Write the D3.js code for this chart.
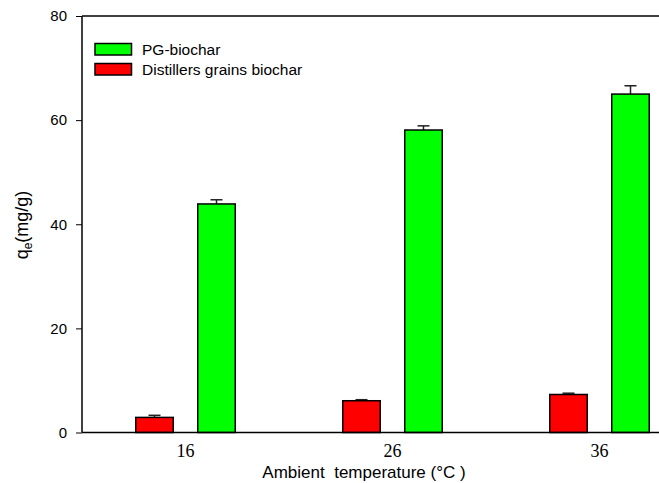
<!DOCTYPE html>
<html>
<head>
<meta charset="utf-8">
<script src="https://cdn.jsdelivr.net/npm/d3@7/dist/d3.min.js"></script>
<style>
  html, body { margin: 0; padding: 0; background: #fff; }
  svg { display: block; }
</style>
</head>
<body>
<script>
const categories = ["16", "26", "36"];
const series = ["Distillers grains biochar", "PG-biochar"];
const distillers = [2.9, 6.1, 7.3];
const distillersErr = [0.4, 0.2, 0.25];
const pg = [43.9, 58.1, 65.0];
const pgErr = [0.8, 0.8, 1.6];
const yTicks = [0, 20, 40, 60, 80];
const colors = { "PG-biochar": "#00ff00", "Distillers grains biochar": "#ff0000" };

const W = 659, H = 483;
const svg = d3.select("body").append("svg").attr("width", W).attr("height", H);

const mLeft = 82, mTop = 16, mBottom = 432.5;
const x0 = d3.scaleBand().domain(categories).range([mLeft, mLeft + 3 * 207]).paddingInner(0).paddingOuter(0);
const x1 = d3.scaleBand().domain(series).range([0, x0.bandwidth()]).paddingInner(0.395).paddingOuter(0.867);
const y = d3.scaleLinear().domain([0, 80]).range([mBottom, mTop]);

const rows = [];
categories.forEach((c, i) => {
  rows.push({ cat: c, s: series[0], v: distillers[i], e: distillersErr[i] });
  rows.push({ cat: c, s: series[1], v: pg[i], e: pgErr[i] });
});

// error bars (upper only)
const eb = svg.append("g");
rows.forEach(d => {
  const cx = x0(d.cat) + x1(d.s) + x1.bandwidth() / 2;
  eb.append("line").attr("x1", cx).attr("x2", cx).attr("y1", y(d.v)).attr("y2", y(d.v + d.e))
    .attr("stroke", "#222").attr("stroke-width", 1.5);
  eb.append("line").attr("x1", cx - 6).attr("x2", cx + 6).attr("y1", y(d.v + d.e)).attr("y2", y(d.v + d.e))
    .attr("stroke", "#222").attr("stroke-width", 1.5);
});

// bars
svg.append("g").selectAll("rect").data(rows).join("rect")
  .attr("x", d => x0(d.cat) + x1(d.s))
  .attr("y", d => y(d.v))
  .attr("width", x1.bandwidth())
  .attr("height", d => y(0) - y(d.v))
  .attr("fill", d => colors[d.s])
  .attr("stroke", "#000")
  .attr("stroke-width", 1.5);

// frame lines
svg.append("line").attr("x1", mLeft).attr("x2", W).attr("y1", mTop).attr("y2", mTop).attr("stroke", "#000").attr("stroke-width", 1.5);
svg.append("line").attr("x1", mLeft).attr("x2", W).attr("y1", mBottom).attr("y2", mBottom).attr("stroke", "#000").attr("stroke-width", 1.5);

// y axis
const yAxis = d3.axisLeft(y).tickValues(yTicks).tickSize(6).tickPadding(9).tickFormat(d3.format("d"));
const ga = svg.append("g").attr("transform", `translate(${mLeft},0)`).call(yAxis);
ga.select(".domain").attr("stroke", "#000").attr("stroke-width", 1.5).attr("d", `M0,${mBottom}V${mTop}`);
ga.selectAll(".tick line").attr("stroke", "#000").attr("stroke-width", 1);
ga.selectAll(".tick text").attr("font-family", "Liberation Sans, Arial, sans-serif").attr("font-size", 15).attr("fill", "#000");

// x tick labels
const xAxis = d3.axisBottom(x0).tickSize(0).tickPadding(12);
const gx = svg.append("g").attr("transform", `translate(0,${mBottom})`).call(xAxis);
gx.select(".domain").remove();
gx.selectAll(".tick text").attr("font-family", "Liberation Serif, Times New Roman, serif").attr("font-size", 18).attr("fill", "#000");

// x title
svg.append("text").attr("x", 364).attr("y", 478).attr("text-anchor", "middle")
  .attr("font-family", "Liberation Sans, Arial, sans-serif").attr("font-size", 17)
  .style("white-space", "pre").attr("xml:space", "preserve")
  .text("Ambient  temperature (°C )");

// y title
const yt = svg.append("text").attr("transform", "translate(28,225) rotate(-90)").attr("text-anchor", "middle")
  .attr("font-family", "Liberation Sans, Arial, sans-serif").attr("font-size", 18);
yt.append("tspan").text("q");
yt.append("tspan").attr("font-size", 12).attr("dy", 4).text("e");
yt.append("tspan").attr("dy", -4).text("(mg/g)");

// legend
const legendItems = ["PG-biochar", "Distillers grains biochar"];
const lg = svg.append("g");
legendItems.forEach((s, i) => {
  const yy = 43.5 + i * 20;
  lg.append("rect").attr("x", 95).attr("y", yy).attr("width", 36.5).attr("height", 11.5)
    .attr("fill", colors[s]).attr("stroke", "#000").attr("stroke-width", 1.5);
  lg.append("text").attr("x", 142).attr("y", yy + 11).attr("font-family", "Liberation Sans, Arial, sans-serif")
    .attr("font-size", 15.5).text(s);
});
</script>
</body>
</html>
